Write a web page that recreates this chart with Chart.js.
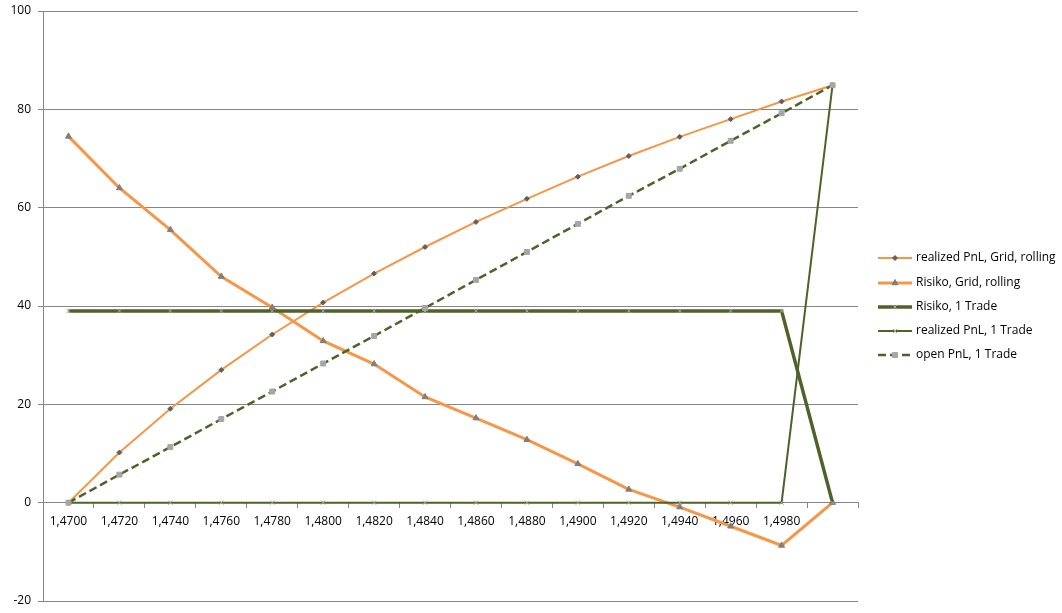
<!DOCTYPE html>
<html>
<head>
<meta charset="utf-8">
<script src="https://cdn.jsdelivr.net/npm/chart.js@4.4.1/dist/chart.umd.min.js"></script>
<style>
  html, body { margin: 0; padding: 0; background: #fff; }
  #wrap { width: 1062px; height: 613px; }
</style>
</head>
<body>
<div id="wrap"><canvas id="c" width="1062" height="613"></canvas></div>
<script>
// values
const categories = ['1,4700', '1,4720', '1,4740', '1,4760', '1,4780', '1,4800', '1,4820', '1,4840',
  '1,4860', '1,4880', '1,4900', '1,4920', '1,4940', '1,4960', '1,4980', ''];

const realizedGrid = [0, 10.2, 19.1, 27.0, 34.2, 40.7, 46.6, 52.0, 57.1, 61.8, 66.3, 70.5, 74.4, 78.0, 81.6, 84.9];
const risikoGrid = [74.5, 64.0, 55.5, 46.0, 39.7, 32.9, 28.2, 21.5, 17.2, 12.8, 7.9, 2.7, -0.9, -4.8, -8.7, 0];
const risikoTrade = [39, 39, 39, 39, 39, 39, 39, 39, 39, 39, 39, 39, 39, 39, 39, 0];
const realizedTrade = [0, 0, 0, 0, 0, 0, 0, 0, 0, 0, 0, 0, 0, 0, 0, 84.9];
const openTrade = [0, 5.7, 11.3, 17.0, 22.6, 28.3, 33.9, 39.6, 45.3, 51.0, 56.7, 62.4, 67.9, 73.6, 79.2, 84.9];

const yTicks = [-20, 0, 20, 40, 60, 80, 100];

const ORANGE = '#F79646';
const GREEN = '#4F6228';
const GRID = '#868686';
const FONT = '"Open Sans", "Liberation Sans", sans-serif';

function line(label, data, color, width, marker, markerColor, radius, order, dash) {
  return {
    label, data, order,
    borderColor: color,
    borderWidth: width,
    borderDash: dash || [],
    tension: 0,
    fill: false,
    pointStyle: marker,
    pointRadius: radius,
    pointBackgroundColor: markerColor,
    pointBorderColor: markerColor,
    pointBorderWidth: 1,
    pointHoverRadius: radius
  };
}

const datasets = [
  line('realized PnL, Grid, rolling', realizedGrid, ORANGE, 2, 'rectRot', '#5F5F5F', 2.5, 5),
  line('Risiko, Grid, rolling', risikoGrid, ORANGE, 3, 'triangle', '#7F7F7F', 3.5, 4),
  line('Risiko, 1 Trade', risikoTrade, GREEN, 3.5, 'crossRot', '#A6A6A6', 3, 3),
  line('realized PnL, 1 Trade', realizedTrade, GREEN, 2, 'crossRot', '#A6A6A6', 3, 2),
  line('open PnL, 1 Trade', openTrade, GREEN, 2.5, 'rect', '#A6A6A6', 3.5, 1, [8, 4])
];

// legend on the right, drawn like the spreadsheet one (line + marker)
const sideLegend = {
  id: 'sideLegend',
  afterDraw(chart) {
    const ctx = chart.ctx;
    const x0 = 878, x1 = 912, tx = 916;
    const ys = [258, 283, 307, 331, 355];
    ctx.save();
    datasets.forEach((ds, i) => {
      const y = ys[i];
      ctx.beginPath();
      ctx.strokeStyle = ds.borderColor;
      ctx.lineWidth = ds.borderWidth;
      ctx.setLineDash(ds.borderDash);
      ctx.moveTo(x0, y);
      ctx.lineTo(x1, y);
      ctx.stroke();
      ctx.setLineDash([]);
      ctx.fillStyle = ds.pointBackgroundColor;
      ctx.strokeStyle = ds.pointBorderColor;
      ctx.lineWidth = 1;
      Chart.helpers.drawPoint(ctx, {
        pointStyle: ds.pointStyle, radius: ds.pointRadius, rotation: 0, borderWidth: 1
      }, (x0 + x1) / 2, y);
      ctx.fillStyle = '#000';
      ctx.font = '12px ' + FONT;
      ctx.textBaseline = 'middle';
      ctx.textAlign = 'left';
      ctx.fillText(ds.label, tx, y);
    });
    ctx.restore();
  }
};

new Chart(document.getElementById('c'), {
  type: 'line',
  data: { labels: categories, datasets },
  options: {
    responsive: false,
    animation: false,
    layout: { padding: { top: 11, right: 204, bottom: 12, left: 0 } },
    plugins: {
      legend: { display: false },
      tooltip: { enabled: false }
    },
    scales: {
      x: {
        type: 'category',
        position: { y: 0 },
        offset: true,
        afterFit(scale) { scale.paddingLeft = 0; scale.paddingRight = 0; },
        grid: {
          offset: true,
          drawOnChartArea: false,
          drawTicks: true,
          tickLength: 5,
          color: GRID
        },
        border: { color: GRID, width: 1 },
        ticks: {
          autoSkip: false,
          maxRotation: 0,
          padding: 7,
          color: '#000',
          font: { family: FONT, size: 12 }
        }
      },
      y: {
        min: -20,
        max: 100,
        afterBuildTicks(scale) { scale.ticks = yTicks.map(v => ({ value: v })); },
        afterFit(scale) {
          scale.width = 43;
          scale.paddingTop = 0;
          scale.paddingBottom = 0;
        },
        grid: { color: GRID, tickLength: 5, lineWidth: 1 },
        border: { color: GRID, width: 1 },
        ticks: {
          padding: 7,
          color: '#000',
          font: { family: FONT, size: 12 }
        }
      }
    }
  },
  plugins: [sideLegend]
});
</script>
</body>
</html>
